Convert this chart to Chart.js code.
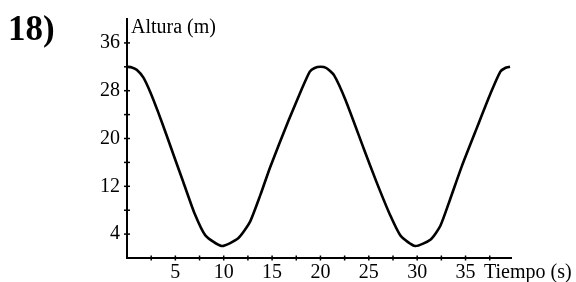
<!DOCTYPE html>
<html>
<head>
<meta charset="utf-8">
<script src="https://cdn.jsdelivr.net/npm/chart.js@4"></script>
<style>
  body { margin: 0; background: #fff; }
  #wrap { width: 576px; height: 282px; }
</style>
</head>
<body>
<div id="wrap"><canvas id="heightChart" width="576" height="282"></canvas></div>
<script>
// Altura vs tiempo
const timeValues = [0, 0.5, 1.0, 1.7, 2.4, 3.2, 4.1, 5.0, 5.8, 7.0, 8.1, 9.8, 11.5, 12.7, 13.8, 14.8,
  16.7, 18.1, 18.9, 19.4, 20.0, 20.6, 21.4, 22.6, 24.5, 25.8, 27.2, 28.3, 29.8, 31.4, 32.4, 33.4,
  34.6, 36.2, 37.6, 38.6, 39.1, 39.6];
const heightValues = [32, 31.9, 31.5, 30.2, 27.8, 24.5, 20.5, 16.4, 12.8, 7.4, 3.8, 2.0, 3.3, 6.0, 10.6, 15.2,
  23.0, 28.4, 31.2, 31.8, 32, 31.8, 30.6, 26.4, 18.2, 12.7, 7.2, 3.7, 2.0, 3.1, 5.4, 9.8,
  15.3, 21.9, 27.6, 31.2, 31.8, 32];

const xLabels = [5, 10, 15, 20, 25, 30, 35];
const xTickMarks = [2.5, 5, 7.5, 10, 12.5, 15, 17.5, 20, 22.5, 25, 27.5, 30, 32.5, 35, 37.5];
const yLabels = [4, 12, 20, 28, 36];
const yTickMarks = [4, 8, 12, 16, 20, 24, 28, 32, 36];

const serif = "'Liberation Serif', 'Times New Roman', serif";

// cross-style tick marks plus the text around the plot
const decorations = {
  id: 'decorations',
  afterDraw(chart) {
    const ctx = chart.ctx;
    const x = chart.scales.x;
    const y = chart.scales.y;
    const area = chart.chartArea;
    ctx.save();
    ctx.strokeStyle = '#000';
    ctx.lineWidth = 1.5;
    xTickMarks.forEach(v => {
      const px = x.getPixelForValue(v);
      ctx.beginPath();
      ctx.moveTo(px, area.bottom - 2.5);
      ctx.lineTo(px, area.bottom + 2.5);
      ctx.stroke();
    });
    yTickMarks.forEach(v => {
      const py = y.getPixelForValue(v);
      ctx.beginPath();
      ctx.moveTo(area.left - 3, py);
      ctx.lineTo(area.left + 3, py);
      ctx.stroke();
    });

    ctx.fillStyle = '#000';
    ctx.textBaseline = 'alphabetic';
    ctx.textAlign = 'left';
    ctx.font = '20px ' + serif;
    ctx.fillText('Altura (m)', area.left + 4, 33);
    ctx.fillText('Tiempo (s)', 484, 278);
    ctx.font = 'bold 35px ' + serif;
    ctx.fillText('18)', 8, 40);
    ctx.restore();
  }
};

new Chart(document.getElementById('heightChart'), {
  type: 'line',
  data: {
    datasets: [{
      data: timeValues.map((t, i) => ({ x: t, y: heightValues[i] })),
      borderColor: '#000',
      borderWidth: 2.6,
      pointRadius: 0,
      tension: 0.2,
      fill: false
    }]
  },
  options: {
    responsive: false,
    animation: false,
    layout: { padding: { left: 0, right: 65, top: 17, bottom: 0 } },
    plugins: {
      legend: { display: false },
      tooltip: { enabled: false }
    },
    scales: {
      x: {
        type: 'linear',
        min: 0,
        max: 39.7,
        afterFit: scale => { scale.height = 24; },
        afterBuildTicks: scale => {
          scale.ticks = xLabels.map(v => ({ value: v }));
        },
        grid: { display: false, drawTicks: false },
        border: { display: true, color: '#000', width: 2 },
        ticks: {
          autoSkip: false,
          maxRotation: 0,
          padding: 3,
          color: '#000',
          font: { family: serif, size: 20 }
        }
      },
      y: {
        min: 0,
        max: 40,
        afterFit: scale => { scale.width = 127; },
        afterBuildTicks: scale => {
          scale.ticks = yLabels.map(v => ({ value: v }));
        },
        grid: { display: false, drawTicks: false },
        border: { display: true, color: '#000', width: 2 },
        ticks: {
          autoSkip: false,
          padding: 7,
          color: '#000',
          font: { family: serif, size: 20 }
        }
      }
    }
  },
  plugins: [decorations]
});
</script>
</body>
</html>
